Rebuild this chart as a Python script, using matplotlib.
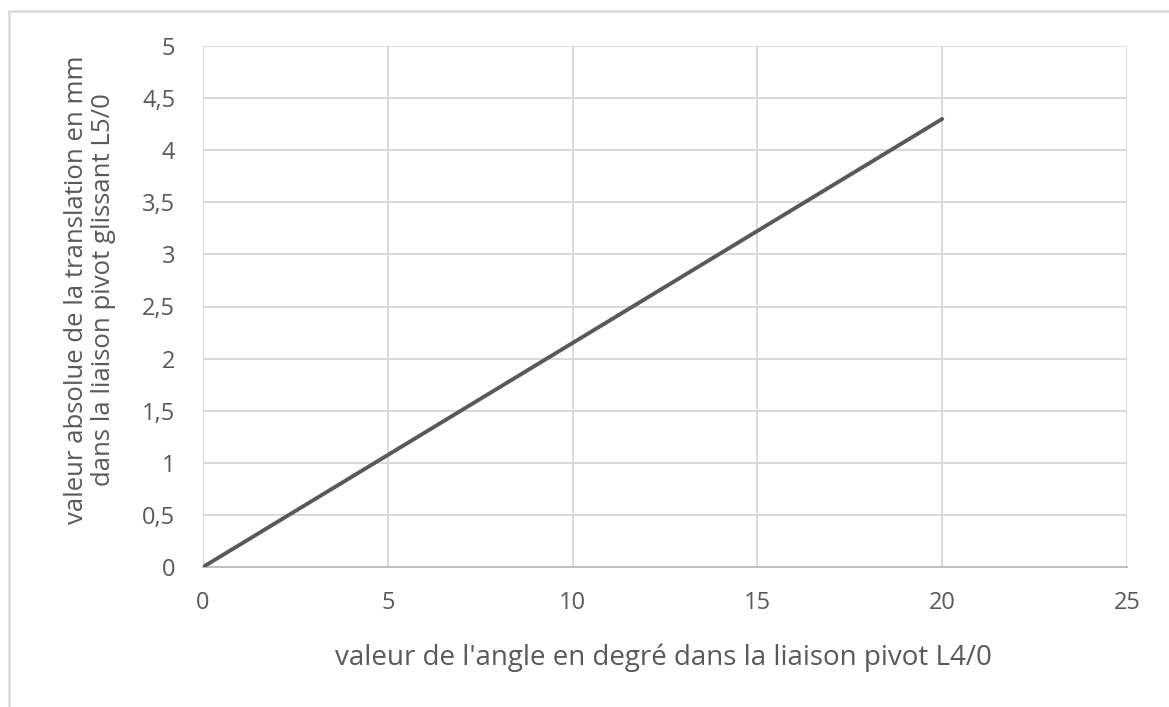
import matplotlib.pyplot as plt
from matplotlib.patches import Rectangle
from matplotlib.ticker import FuncFormatter

angle = [0, 5, 10, 15, 20]
translation = [0, 1.075, 2.15, 3.225, 4.3]
x_ticks = [0, 5, 10, 15, 20, 25]
y_ticks = [0, 0.5, 1, 1.5, 2, 2.5, 3, 3.5, 4, 4.5, 5]

plt.rcParams["font.family"] = ["Open Sans", "DejaVu Sans"]

fig = plt.figure(figsize=(11.69, 7.07), dpi=100)
ax = fig.add_axes([203 / 1169, 1 - 567 / 707, 924 / 1169, 521 / 707])

# chart border (cut off at right and bottom, as in the screenshot)
fig.patches.append(Rectangle((9 / 1169, -0.1), 1.2, 1 - 11 / 707 + 0.1,
                             transform=fig.transFigure, fill=False,
                             edgecolor="#d9d9d9", linewidth=1.8))

ax.plot(angle, translation, color="#595959", linewidth=2.8, solid_capstyle="round", zorder=3)

ax.set_xlim(0, 25)
ax.set_ylim(0, 5)
ax.set_xticks(x_ticks)
ax.set_yticks(y_ticks)
ax.yaxis.set_major_formatter(FuncFormatter(lambda v, p: f"{v:g}".replace(".", ",")))
ax.grid(True, color="#d9d9d9", linewidth=1.4)
ax.set_axisbelow(True)
for side in ["top", "right", "left"]:
    ax.spines[side].set_visible(False)
ax.spines["bottom"].set_color("#bfbfbf")
ax.spines["bottom"].set_linewidth(1.4)
ax.tick_params(length=0, labelsize=17, labelcolor="#595959")
ax.tick_params(axis="x", pad=17)
ax.tick_params(axis="y", pad=20)

fig.text(663 / 1169, 1 - 658 / 707, "valeur de l'angle en degré dans la liaison pivot L4/0",
         ha="center", va="center", fontsize=20, color="#595959")
fig.text(90 / 1169, 1 - 290 / 707,
         "valeur absolue de la translation en mm\ndans la liaison pivot glissant L5/0",
         ha="center", va="center", rotation=90, fontsize=18.5, color="#595959",
         linespacing=1.15)

fig.savefig("out.png", dpi=100)
